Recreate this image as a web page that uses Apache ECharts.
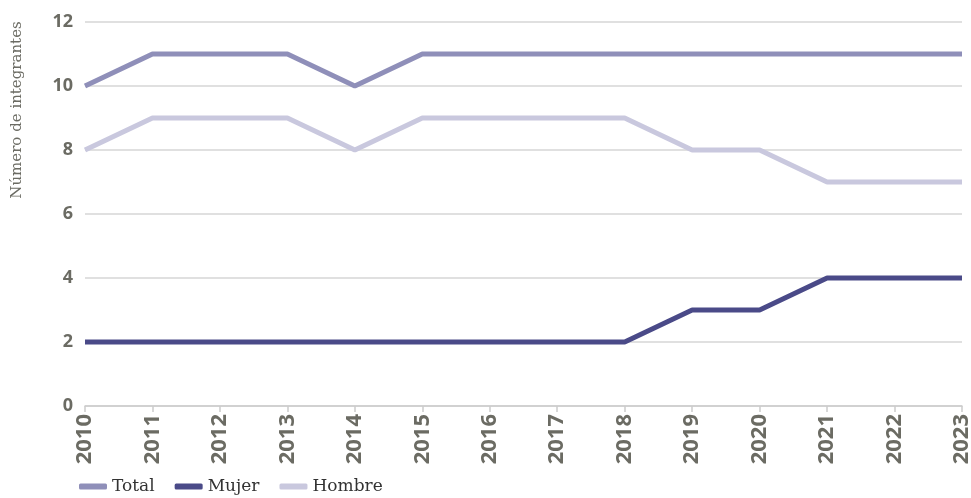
<!DOCTYPE html>
<html>
<head>
<meta charset="utf-8">
<script src="https://cdn.jsdelivr.net/npm/echarts@6/dist/echarts.min.js"></script>
<style>
  html, body { margin: 0; padding: 0; background: #fff; }
  #chart { width: 971px; height: 498px; }
</style>
</head>
<body>
<div id="chart"></div>
<script>
// Years on the category axis
const years = ['2010','2011','2012','2013','2014','2015','2016','2017','2018','2019','2020','2021','2022','2023'];

// Number of members per year
const total  = [10, 11, 11, 11, 10, 11, 11, 11, 11, 11, 11, 11, 11, 11];
const mujer  = [2, 2, 2, 2, 2, 2, 2, 2, 2, 3, 3, 4, 4, 4];
const hombre = [8, 9, 9, 9, 8, 9, 9, 9, 9, 8, 8, 7, 7, 7];

const yTitle = 'Número de integrantes';

const chart = echarts.init(document.getElementById('chart'));

function lineSeries(name, data, color) {
  return {
    name: name,
    type: 'line',
    data: data,
    showSymbol: false,
    symbol: 'none',
    lineStyle: { width: 5, color: color },
    itemStyle: { color: color },
    emphasis: { disabled: true }
  };
}

const tickColor = '#6b6b63';

chart.setOption({
  animation: false,
  grid: { left: 85, right: 9, top: 22, bottom: 92, outerBoundsMode: 'none' },
  legend: {
    left: 74,
    bottom: -2,
    icon: 'roundRect',
    itemWidth: 28,
    itemHeight: 6,
    itemGap: 20,
    textStyle: { fontFamily: 'DejaVu Serif', fontSize: 17, color: '#333' },
    data: ['Total', 'Mujer', 'Hombre']
  },
  xAxis: {
    type: 'category',
    data: years,
    boundaryGap: false,
    axisLine: { lineStyle: { color: '#cccccc', width: 1.5 } },
    axisTick: { show: true, length: 6, alignWithLabel: true, lineStyle: { color: '#cccccc', width: 1.5 } },
    axisLabel: {
      rotate: 90,
      interval: 0,
      margin: 8,
      hideOverlap: false,
      fontFamily: 'Open Sans',
      fontWeight: 'bold',
      fontSize: 22,
      color: tickColor
    }
  },
  yAxis: {
    type: 'value',
    min: 0,
    max: 12,
    interval: 2,
    axisLine: { show: false },
    axisTick: { show: false },
    splitLine: { lineStyle: { color: '#d6d6d6', width: 1.5 } },
    axisLabel: {
      margin: 12,
      fontFamily: 'Open Sans',
      fontWeight: 'bold',
      fontSize: 18,
      color: tickColor
    }
  },
  graphic: [{
    type: 'text',
    x: 17,
    y: 110,
    rotation: Math.PI / 2,
    style: {
      text: yTitle,
      fontFamily: 'DejaVu Serif',
      fontSize: 15,
      fill: tickColor,
      align: 'center',
      verticalAlign: 'middle'
    }
  }],
  series: [
    lineSeries('Total', total, '#8f8fb9'),
    lineSeries('Mujer', mujer, '#4a4a88'),
    lineSeries('Hombre', hombre, '#c9c8de')
  ]
});
</script>
</body>
</html>
